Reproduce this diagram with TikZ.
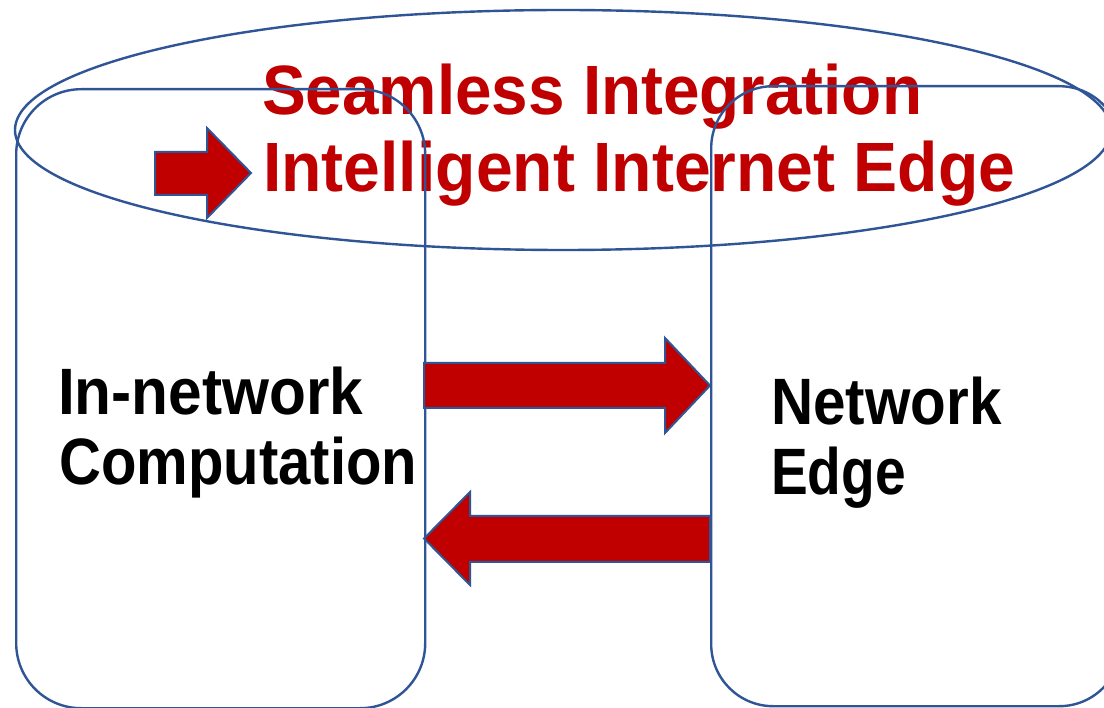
\documentclass[tikz,border=0pt]{standalone}
\usepackage{fontspec}
\setmainfont{Liberation Sans}
\usetikzlibrary{shapes.geometric}
\definecolor{edgeblue}{HTML}{2F5597}
\definecolor{deepred}{HTML}{C00000}
\tikzset{
  outline/.style={draw=edgeblue, line width=2.4pt, inner sep=0pt, fill=none},
  column/.style={outline, rounded corners=65pt, anchor=north west},
  blockarrow/.style={draw=edgeblue, fill=deepred, line width=2pt, line join=miter},
  redlabel/.style={anchor=base west, inner sep=0pt, text=deepred,
    font=\fontsize{69.8}{80}\selectfont\bfseries},
  blacklabel/.style={anchor=base west, inner sep=0pt, text=black,
    font=\fontsize{65.6}{70}\selectfont\bfseries},
}
% horizontally condensed text
\newcommand\narrowtext[2]{\scalebox{#1}[1]{#2}}

\begin{document}
\begin{tikzpicture}[x=1pt,y=-1pt]
\useasboundingbox (0,0) rectangle (1104,708);
\clip (0,0) rectangle (1104,708);
\fill[white] (0,0) rectangle (1104,708);

% labels
\node[redlabel] (title1) at (262,115) {\narrowtext{0.94}{Seamless Integration}};
\node[redlabel] (title2) at (263,192) {\narrowtext{0.946}{Intelligent Internet Edge}};
\node[blacklabel] (inc1) at (58,415) {\narrowtext{0.92}{In-network}};
\node[blacklabel] (inc2) at (59,485) {\narrowtext{0.885}{Computation}};
\node[blacklabel] (ne1) at (771,425) {\narrowtext{0.89}{Network}};
\node[blacklabel] (ne2) at (771,495) {\narrowtext{0.84}{Edge}};

% the two columns and the enclosing ellipse
\node[column, minimum width=409pt, minimum height=619pt] (comp) at (15,88) {};
\node[column, minimum width=410pt, minimum height=620pt, rounded corners=62pt] (edge) at (710,85) {};
\node[outline, ellipse, minimum width=1096pt, minimum height=240pt] (seam) at (563,130) {};

% block arrows
\draw[blockarrow] (155,152) -- (207,152) -- (207,128) -- (251,173)
  -- (207,218) -- (207,195) -- (155,195) -- cycle;
\draw[blockarrow] (424,363) -- (665,363) -- (665,338) -- (710,385.5)
  -- (665,433) -- (665,408) -- (424,408) -- cycle;
\draw[blockarrow] (710,516) -- (470,516) -- (470,492) -- (424,538.5)
  -- (470,585) -- (470,562) -- (710,562) -- cycle;
\end{tikzpicture}
\end{document}
